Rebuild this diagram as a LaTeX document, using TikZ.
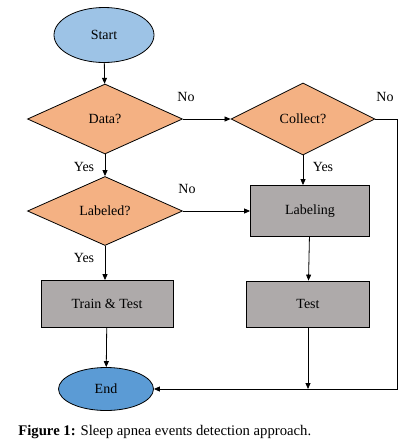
\documentclass[tikz,border=0pt]{standalone}
\usepackage{fontspec}
\setmainfont{Liberation Serif}
\usetikzlibrary{shapes.geometric, arrows.meta}

\begin{document}
\begin{tikzpicture}[x=1pt, y=-1pt, font=\fontsize{14}{16}\selectfont, line width=0.8pt]

% Define colors for each kind of block
\definecolor{startblue}{RGB}{157,195,230}
\definecolor{endblue}{RGB}{91,155,213}
\definecolor{decision}{RGB}{244,177,131}
\definecolor{process}{RGB}{174,170,170}

\tikzset{
  terminal/.style={ellipse, draw, inner sep=0pt},
  decide/.style={diamond, draw, fill=decision, minimum width=155pt, minimum height=70pt, inner sep=0pt},
  stepbox/.style={rectangle, draw, fill=process, inner sep=0pt},
  flow/.style={-{Triangle[length=6pt,width=5pt]}},
}

\useasboundingbox (0,0) rectangle (411,445);

% Draw the blocks
\node[terminal, fill=startblue, minimum width=100pt, minimum height=55pt] (start) at (104,35) {Start};
\node[decide] (data) at (105,119) {Data?};
\node[decide, minimum width=144pt, minimum height=72pt] (collect) at (303,119) {Collect?};
\node[decide, minimum height=69pt] (labeled) at (105,211) {Labeled?};
\node[stepbox, minimum width=119pt, minimum height=51pt] (labeling) at (310,211) {Labeling};
\node[stepbox, minimum width=132pt, minimum height=47pt] (train) at (107,304) {Train \& Test};
\node[stepbox, minimum width=123pt, minimum height=46pt] (test) at (308,304) {Test};
\node[terminal, fill=endblue, minimum width=95pt, minimum height=43pt] (end) at (106,389) {End};

% Draw the arrows
\coordinate (rail) at (397,0);
\draw[flow] (start) -- (data);
\draw[flow] (data) -- (collect);
\draw[flow] (data) -- (labeled);
\draw[flow] (collect.south) -- (collect.south |- labeling.north);
\draw[flow] (labeled) -- (labeling);
\draw[flow] (labeled.south) -- (labeled.south |- train.north);
\draw[flow] (labeling) -- (test);
\draw[flow] (train) -- (end);
\draw[flow] (test) -- (test |- end.east);
\draw[flow] (collect.east) -- (collect.east -| rail) -- (rail |- end.east) -- (end.east);

% Add labels for each branch
\node (no1) at (186,97) {No};
\node (no2) at (385,97) {No};
\node (yes1) at (84,167) {Yes};
\node (yes2) at (323,167) {Yes};
\node (no3) at (187,189) {No};
\node (yes3) at (84,258) {Yes};

% Caption
\node[anchor=west, inner sep=0pt, font=\fontsize{14.7}{17}\selectfont] (caption) at (18,432) {\textbf{Figure 1:} Sleep apnea events detection approach.};

\end{tikzpicture}
\end{document}
